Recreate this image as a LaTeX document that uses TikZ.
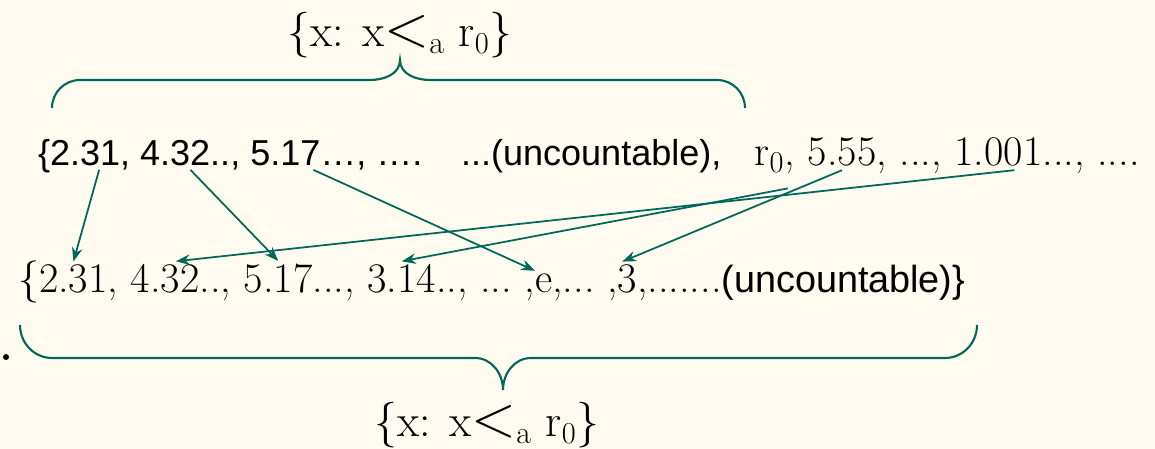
\documentclass[tikz,border=0pt]{standalone}
\usepackage{fontspec}
\usepackage{graphicx}
\usepackage{xcolor}
\usetikzlibrary{positioning,arrows.meta}
\newfontfamily\arialfont{Liberation Sans}
\definecolor{bgcream}{RGB}{255,251,240}
\definecolor{mapteal}{RGB}{0,104,90}

\begin{document}
\begin{tikzpicture}[
    x=0.02cm, y=0.02cm,
    sanstxt/.style={
        font=\arialfont\fontsize{20.5}{24}\selectfont,
        inner xsep=0pt,
        inner ysep=2pt,
        outer sep=0pt
    },
    seriftxt/.style={
        font=\fontsize{24}{28}\selectfont,
        inner xsep=0pt,
        inner ysep=2pt,
        outer sep=0pt
    },
    labeltxt/.style={
        font=\fontsize{26}{30}\selectfont,
        inner sep=0pt
    },
    maparrow/.style={
        -{Stealth[length=8pt,width=6pt]},
        line width=1pt,
        mapteal
    },
    bracepath/.style={
        line width=1.2pt,
        mapteal
    }
]
% Background
\fill[bgcream] (0,0) rectangle (1155,449);
\useasboundingbox (0,0) rectangle (1155,449);

% Top row
\node[sanstxt, anchor=base west] at (38,283) (tlb) {\{};
\node[sanstxt, base right=0pt of tlb] (t231) {2.31};
\node[sanstxt, base right=0pt of t231] (tc1) {,~\null};
\node[sanstxt, base right=0pt of tc1] (t432) {4.32..};
\node[sanstxt, base right=0pt of t432] (tc2) {,~\null};
\node[sanstxt, base right=0pt of tc2] (t517) {5.17};
\node[sanstxt, base right=0pt of t517] (tunc) {…, ….\hspace{22pt}...(uncountable),\hspace{19pt}\null};
\node[seriftxt, base right=0pt of tunc] (tr0) {r$_0$};
\node[seriftxt, base right=0pt of tr0] (tc3) {,~\null};
\node[seriftxt, base right=0pt of tc3] (t555) {5.55};
\node[seriftxt, base right=0pt of t555] (tdots) {, ...,~\null};
\node[seriftxt, base right=0pt of tdots] (t1001) {1.001};
\node[seriftxt, base right=0pt of t1001] (tend) {..., ....};

% Bottom row
\node[seriftxt, anchor=base west] at (18,156) (blb) {\{};
\node[seriftxt, base right=0pt of blb] (b231) {2.31};
\node[seriftxt, base right=0pt of b231] (bc1) {,~\null};
\node[seriftxt, base right=0pt of bc1] (b432) {4.32};
\node[seriftxt, base right=0pt of b432] (bc2) {..,~\null};
\node[seriftxt, base right=0pt of bc2] (b517) {5.17};
\node[seriftxt, base right=0pt of b517] (bc3) {...,~\null};
\node[seriftxt, base right=0pt of bc3] (b314) {3.14};
\node[seriftxt, base right=0pt of b314] (bc4) {..,~...~,};
\node[seriftxt, base right=0pt of bc4] (be) {e};
\node[seriftxt, base right=0pt of be] (bc5) {,...~,};
\node[seriftxt, base right=0pt of bc5] (b3) {3};
\node[seriftxt, base right=0pt of b3] (bc6) {,.......};
\node[sanstxt, font=\arialfont\fontsize{21.5}{25}\selectfont,
      base right=0pt of bc6] (bunc) {(uncountable)\}};

% Set labels
\node[labeltxt, anchor=base] at (400,402) (toplabel)
    {\{x: x$\scalebox{1.35}{$<$}_{\mathrm{a}}$ r$_0$\}};
\node[labeltxt, anchor=base] at (487,12) (botlabel)
    {\{x: x$\scalebox{1.35}{$<$}_{\mathrm{a}}$ r$_0$\}};

% Braces
\draw[bracepath] (52,341) to[out=90,in=180] (80,369) -- (370,369)
    to[out=0,in=-90] (400,389) to[out=-90,in=180] (430,369) -- (717,369)
    to[out=0,in=90] (745,341);
\draw[bracepath] (20,124) to[out=-90,in=180] (52,91) -- (475,91)
    to[out=0,in=90] (503,59) to[out=90,in=180] (531,91) -- (945,91)
    to[out=0,in=-90] (977,124);

% Stray bullet
\fill (6,92) circle (3);

% Mapping arrows
\draw[maparrow] ([xshift=8pt]t231.south) -- (b231.north);
\draw[maparrow] ([xshift=3pt]t432.south) -- (b517.north);
\draw[maparrow] ([xshift=-4pt]t517.south east) -- ([xshift=-5pt]be.north);
\draw[maparrow] ([xshift=9pt]t1001.south) -- ([xshift=6pt]b432.north);
\draw[maparrow] ([xshift=2pt,yshift=-7pt]tr0.south east) -- (b314.north);
\draw[maparrow] (t555.south) -- ([xshift=-3pt]b3.north);
\end{tikzpicture}
\end{document}
